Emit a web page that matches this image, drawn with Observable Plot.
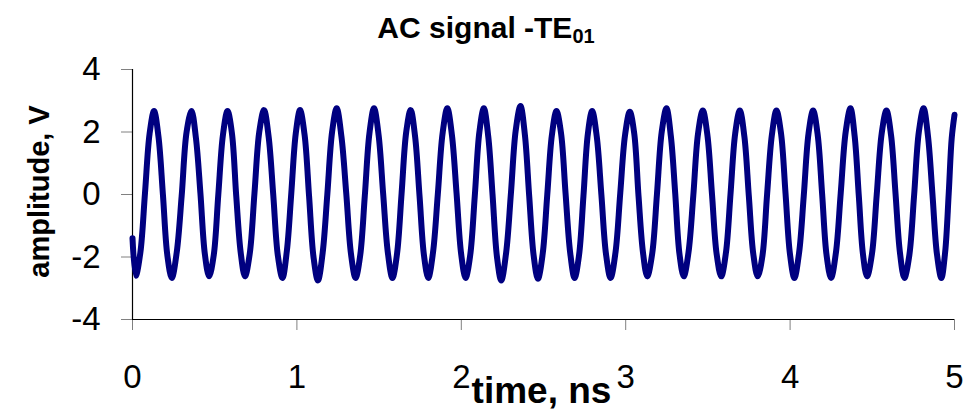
<!DOCTYPE html>
<html>
<head>
<meta charset="utf-8">
<script src="https://cdn.jsdelivr.net/npm/d3@7"></script>
<script src="https://cdn.jsdelivr.net/npm/@observablehq/plot@0.6"></script>
<style>
  html, body { margin: 0; padding: 0; background: #fff; }
  #chart { position: relative; width: 974px; height: 413px; font-family: "Liberation Sans", Arial, sans-serif; }
  #title {
    position: absolute; top: 13px; left: 486px; transform: translateX(-50%);
    white-space: nowrap; font-weight: bold; font-size: 30px; line-height: 30px; color: #000;
  }
  #title sub { font-size: 20px; vertical-align: -5px; line-height: 0; }
</style>
</head>
<body>
<div id="chart">
  <div id="title">AC signal -TE<sub>01</sub></div>
</div>
<script>
// Sampled AC waveform: [time in ns, amplitude in V]
const waveform = [
  [0, -1.4], [0.020, -2.60], [0.048, -1.85], [0.076, 0.05], [0.104, 1.95],
  [0.131, 2.67], [0.158, 1.85], [0.185, 0.0], [0.212, -1.95], [0.239, -2.67],
  [0.269, -1.85], [0.299, -0.05], [0.329, 2.0], [0.359, 2.67], [0.386, 1.8],
  [0.413, 0.05], [0.440, -1.9], [0.466, -2.62], [0.494, -1.95], [0.522, 0.0],
  [0.550, 1.9], [0.578, 2.67], [0.605, 1.95], [0.631, -0.05], [0.658, -1.85],
  [0.684, -2.62], [0.713, -1.9], [0.742, 0.05], [0.771, 2.0], [0.800, 2.70],
  [0.828, 1.85], [0.856, 0.0], [0.884, -1.95], [0.912, -2.67], [0.939, -1.8],
  [0.966, 0.05], [0.993, 1.95], [1.019, 2.70], [1.047, 1.9], [1.074, -0.05],
  [1.101, -2.0], [1.128, -2.75], [1.157, -1.85], [1.185, 0.0], [1.214, 2.0],
  [1.242, 2.76], [1.271, 1.85], [1.300, 0.05], [1.329, -1.9], [1.357, -2.67],
  [1.385, -1.95], [1.413, -0.05], [1.441, 1.95], [1.469, 2.76], [1.497, 1.9],
  [1.525, 0.0], [1.553, -1.85], [1.581, -2.67], [1.609, -1.9], [1.637, 0.05],
  [1.665, 2.0], [1.692, 2.70], [1.719, 1.85], [1.746, -0.05], [1.773, -1.95],
  [1.799, -2.67], [1.828, -1.85], [1.857, 0.0], [1.886, 1.95], [1.915, 2.76],
  [1.943, 1.9], [1.971, 0.05], [1.999, -1.9], [2.026, -2.67], [2.054, -1.95],
  [2.082, -0.05], [2.110, 2.0], [2.137, 2.76], [2.164, 1.85], [2.190, 0.0],
  [2.217, -2.0], [2.243, -2.75], [2.273, -1.85], [2.302, 0.05], [2.331, 2.05],
  [2.360, 2.83], [2.387, 1.9], [2.413, -0.05], [2.440, -1.95], [2.466, -2.70],
  [2.495, -1.9], [2.523, 0.0], [2.551, 1.9], [2.579, 2.67], [2.607, 1.95],
  [2.634, 0.05], [2.662, -1.85], [2.689, -2.67], [2.716, -1.95], [2.743, -0.05],
  [2.770, 1.95], [2.796, 2.67], [2.824, 1.85], [2.852, 0.0], [2.880, -1.9],
  [2.908, -2.67], [2.938, -1.85], [2.967, 0.05], [2.996, 1.9], [3.025, 2.65],
  [3.052, 1.95], [3.078, -0.05], [3.105, -1.85], [3.131, -2.62], [3.161, -1.9],
  [3.190, 0.0], [3.219, 2.0], [3.248, 2.76], [3.275, 1.85], [3.301, 0.05],
  [3.327, -1.9], [3.353, -2.62], [3.382, -1.85], [3.411, -0.05], [3.440, 1.95],
  [3.469, 2.69], [3.497, 1.9], [3.525, 0.0], [3.553, -1.9], [3.581, -2.62],
  [3.610, -1.85], [3.638, 0.05], [3.666, 1.95], [3.694, 2.69], [3.722, 1.85],
  [3.749, -0.05], [3.776, -1.9], [3.803, -2.62], [3.832, -1.95], [3.860, 0.0],
  [3.889, 1.9], [3.917, 2.69], [3.945, 1.95], [3.972, 0.05], [3.999, -1.9],
  [4.026, -2.67], [4.055, -1.85], [4.083, -0.05], [4.112, 1.95], [4.140, 2.69],
  [4.168, 1.9], [4.195, 0.0], [4.222, -1.95], [4.249, -2.67], [4.279, -1.85],
  [4.308, 0.05], [4.338, 2.0], [4.367, 2.76], [4.393, 1.85], [4.418, -0.05],
  [4.443, -1.9], [4.468, -2.62], [4.498, -1.9], [4.527, 0.0], [4.557, 1.95],
  [4.586, 2.69], [4.614, 1.9], [4.641, 0.05], [4.668, -1.85], [4.695, -2.67],
  [4.725, -1.95], [4.754, -0.05], [4.783, 2.0], [4.812, 2.76], [4.839, 1.85],
  [4.866, 0.0], [4.893, -1.9], [4.920, -2.67], [4.943, -1.85], [4.965, 0.05],
  [4.983, 1.8], [5.0, 2.55]
];

const xTicks = [0, 1, 2, 3, 4, 5];
const yTicks = [-4, -2, 0, 2, 4];
const xLabel = "time, ns";
const yLabel = "amplitude, V";
const plain = d => String(d);

const chart = Plot.plot({
  width: 974,
  height: 413,
  marginLeft: 132,
  marginRight: 20,
  marginTop: 69,
  marginBottom: 94,
  x: { domain: [0, 5] },
  y: { domain: [-4, 4] },
  style: { fontFamily: "'Liberation Sans', Arial, sans-serif", background: "white", color: "black", overflow: "visible" },
  marks: [
    Plot.axisY(yTicks, { tickSize: 11, tickPadding: 21, fontSize: 33, tickFormat: plain, stroke: "#808080", fill: "black", label: null }),
    Plot.axisX(xTicks, { tickSize: 11, tickPadding: 34, fontSize: 33, tickFormat: plain, stroke: "#808080", fill: "black", label: null }),
    Plot.ruleX([0], { stroke: "black", strokeWidth: 1.2 }),
    Plot.ruleY([-4], { stroke: "black", strokeWidth: 1.2 }),
    Plot.line(waveform, {
      x: d => d[0], y: d => d[1], curve: "catmull-rom",
      stroke: "#000080", strokeWidth: 6, strokeLinejoin: "round", strokeLinecap: "round"
    }),
    Plot.text([xLabel], { frameAnchor: "bottom", lineAnchor: "bottom", dx: -2, dy: 83, fontSize: 37, fontWeight: "bold" }),
    Plot.text([yLabel], { frameAnchor: "left", textAnchor: "middle", rotate: -90, lineAnchor: "bottom", dx: -84, dy: -3, fontSize: 29, fontWeight: "bold" })
  ]
});

document.getElementById("chart").prepend(chart);
</script>
</body>
</html>
